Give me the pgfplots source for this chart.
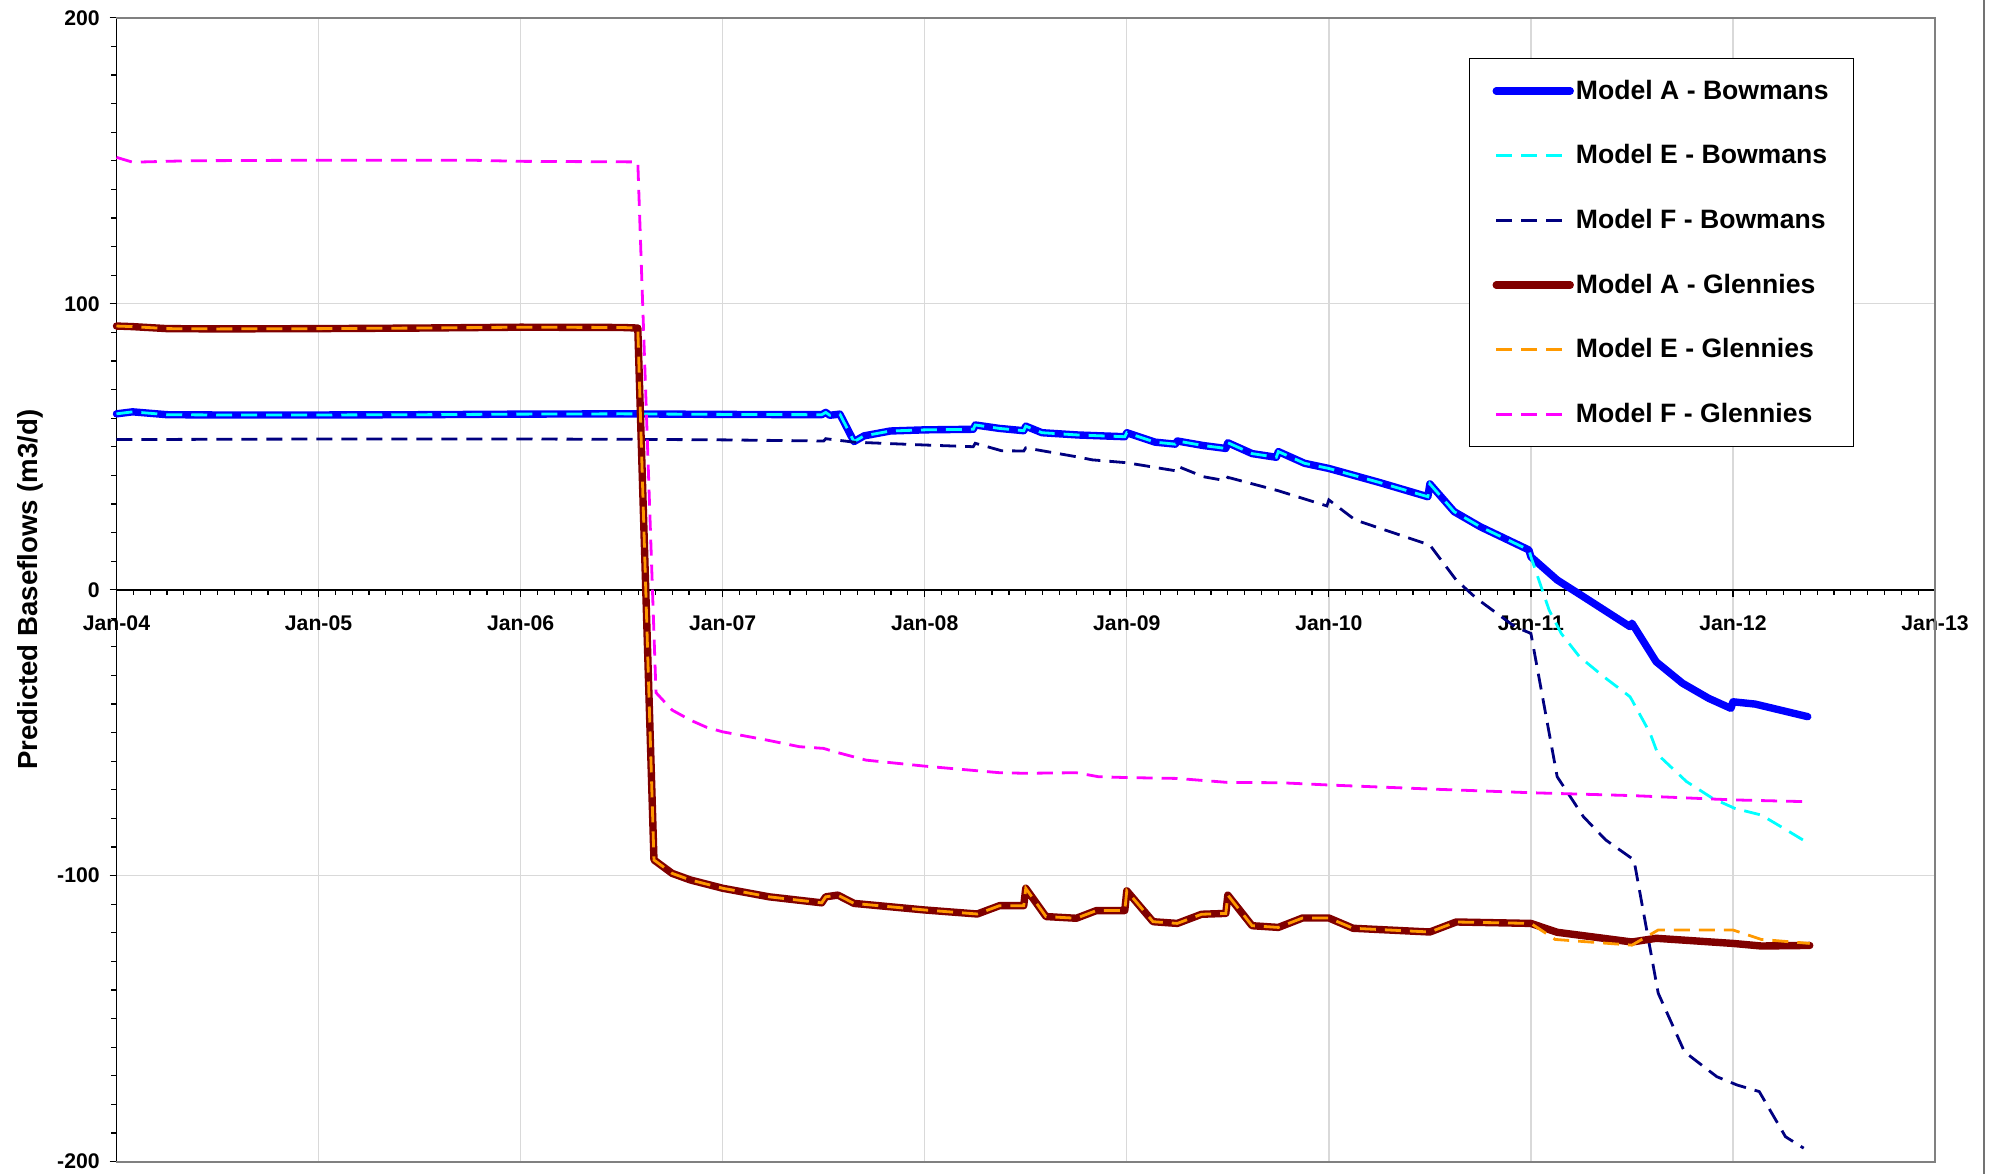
\documentclass[border=0pt]{standalone}
\usepackage{fontspec}
\setmainfont{Liberation Sans}
\usepackage{pgfplots}
\pgfplotsset{compat=1.18}

\definecolor{modelAB}{RGB}{0,0,255}
\definecolor{modelEB}{RGB}{0,255,255}
\definecolor{modelFB}{RGB}{0,0,128}
\definecolor{modelAG}{RGB}{128,0,0}
\definecolor{modelEG}{RGB}{255,153,0}
\definecolor{modelFG}{RGB}{255,0,255}
\definecolor{gridgray}{RGB}{217,217,217}
\definecolor{framegray}{RGB}{128,128,128}

\begin{document}
\begin{tikzpicture}
\begin{axis}[
    scale only axis,
    width=909.25pt, height=571.9pt,
    xmin=2004, xmax=2013, ymin=-200, ymax=200,
    clip=false,
    axis x line=middle, axis y line=left,
    axis line style={-, black, line width=0.8pt},
    hide obscured x ticks=false, hide obscured y ticks=false,
    xtick={2004,2005,2006,2007,2008,2009,2010,2011,2012,2013},
    xticklabels={Jan-04,Jan-05,Jan-06,Jan-07,Jan-08,Jan-09,Jan-10,Jan-11,Jan-12,Jan-13},
    ytick={-200,-100,0,100,200},
    yticklabels={-200,-100,0,100,200},
    minor x tick num=11, minor y tick num=9,
    tick align=outside,
    major tick length=3.4pt, minor tick length=2.6pt,
    tick style={black, line width=0.6pt},
    grid=major,
    major grid style={gridgray, line width=0.7pt},
    ticklabel style={font=\bfseries\fontsize{10.6}{12}\selectfont},
    xticklabel style={yshift=-6pt},
    yticklabel style={xshift=-1.5pt},
    ylabel={Predicted Baseflows (m3/d)},
    every axis y label/.style={at={(axis description cs:-0.0476,0.5)}, rotate=90, anchor=center,
        font=\bfseries\fontsize{13.8}{16}\selectfont},
    legend cell align=left,
    legend style={at={(0.7437,0.9649)}, anchor=north west, draw=black, line width=0.6pt,
        fill=white, inner xsep=11.5pt, inner ysep=8.6pt, row sep=17.2pt,
        font=\bfseries\fontsize{13.3}{15}\selectfont,
        nodes={inner xsep=1pt, inner ysep=2pt}},
    legend image code/.code={\draw[#1] (0pt,0pt) -- (37pt,0pt);},
]

% Model A - Bowmans
\addplot[modelAB, mark=none, line width=3.7pt, line join=round, line cap=round] coordinates {
    (2004.00,61.5) (2004.08,62.2) (2004.25,61.2) (2004.50,61.1) (2005.00,61.1) (2005.50,61.2)
    (2006.00,61.4) (2006.50,61.5) (2007.00,61.3) (2007.49,61.2) (2007.51,62.0) (2007.53,61.0)
    (2007.58,61.4) (2007.65,51.8) (2007.70,53.8) (2007.83,55.5) (2008.00,55.9) (2008.24,56.1)
    (2008.25,57.6) (2008.37,56.4) (2008.49,55.6) (2008.50,57.2) (2008.58,54.9) (2008.76,54.1)
    (2008.99,53.5) (2009.00,54.9) (2009.14,51.6) (2009.24,50.9) (2009.25,52.0) (2009.38,50.4)
    (2009.49,49.4) (2009.50,51.4) (2009.62,47.6) (2009.74,46.3) (2009.75,48.3) (2009.88,44.2)
    (2010.00,42.4) (2010.25,37.5) (2010.49,32.5) (2010.50,37.0) (2010.62,27.3) (2010.75,22.0)
    (2010.99,13.9) (2011.00,11.5) (2011.13,3.4) (2011.25,-2.0) (2011.49,-12.9) (2011.50,-11.7)
    (2011.62,-25.2) (2011.75,-32.7) (2011.88,-38.0) (2011.99,-41.5) (2012.00,-39.2) (2012.11,-40.0)
    (2012.37,-44.4)
};
\addlegendentry{Model A - Bowmans\hspace{9pt}}

% Model E - Bowmans
\addplot[modelEB, mark=none, line width=1.4pt, dash pattern=on 8pt off 4.5pt] coordinates {
    (2004.00,61.5) (2004.08,62.2) (2004.25,61.2) (2004.50,61.1) (2005.00,61.1) (2005.50,61.2)
    (2006.00,61.4) (2006.50,61.5) (2007.00,61.3) (2007.49,61.2) (2007.51,62.0) (2007.53,61.0)
    (2007.58,61.4) (2007.65,51.8) (2007.70,53.8) (2007.83,55.5) (2008.00,55.9) (2008.24,56.1)
    (2008.25,57.6) (2008.37,56.4) (2008.49,55.6) (2008.50,57.2) (2008.58,54.9) (2008.76,54.1)
    (2008.99,53.5) (2009.00,54.9) (2009.14,51.6) (2009.24,50.9) (2009.25,52.0) (2009.38,50.4)
    (2009.49,49.4) (2009.50,51.4) (2009.62,47.6) (2009.74,46.3) (2009.75,48.3) (2009.88,44.2)
    (2010.00,42.4) (2010.25,37.5) (2010.49,32.5) (2010.50,37.0) (2010.62,27.3) (2010.75,22.0)
    (2010.99,13.9) (2011.00,11.5) (2011.09,-7.1) (2011.15,-15.3) (2011.24,-23.4) (2011.36,-30.4)
    (2011.49,-37.4) (2011.50,-38.6) (2011.59,-50.2) (2011.63,-57.8) (2011.77,-67.1) (2011.90,-73.0)
    (2012.01,-76.5) (2012.14,-78.8) (2012.25,-83.4) (2012.36,-88.1)
};
\addlegendentry{Model E - Bowmans}

% Model F - Bowmans
\addplot[modelFB, mark=none, line width=1.4pt, dash pattern=on 8pt off 4.5pt] coordinates {
    (2004.00,52.5) (2005.00,52.7) (2006.00,52.7) (2006.50,52.6) (2007.00,52.4) (2007.50,52.0)
    (2007.51,52.8) (2007.65,51.6) (2008.00,50.6) (2008.24,50.0) (2008.25,51.2) (2008.38,48.6)
    (2008.49,48.5) (2008.50,49.6) (2008.75,46.5) (2008.83,45.4) (2009.00,44.4) (2009.24,41.6)
    (2009.25,43.2) (2009.38,39.5) (2009.49,38.1) (2009.50,39.3) (2009.75,34.6) (2009.99,29.3)
    (2010.00,31.4) (2010.13,24.4) (2010.50,15.6) (2010.63,3.4) (2010.73,-3.0) (2010.92,-12.9)
    (2011.00,-15.3) (2011.13,-65.4) (2011.26,-79.4) (2011.37,-87.5) (2011.51,-94.5)
    (2011.63,-141.1) (2011.76,-161.6) (2011.92,-170.3) (2012.02,-173.2) (2012.13,-175.5)
    (2012.26,-191.3) (2012.35,-195.3)
};
\addlegendentry{Model F - Bowmans}

% Model A - Glennies
\addplot[modelAG, mark=none, line width=3.7pt, line join=round, line cap=round] coordinates {
    (2004.00,92.2) (2004.08,92.0) (2004.25,91.3) (2004.50,91.2) (2005.00,91.3) (2005.50,91.5)
    (2006.00,91.8) (2006.50,91.7) (2006.58,91.5) (2006.66,-94.5) (2006.75,-99.2) (2006.84,-101.5)
    (2007.00,-104.4) (2007.23,-107.4) (2007.49,-109.5) (2007.51,-107.4) (2007.57,-106.8)
    (2007.65,-109.7) (2008.00,-112.0) (2008.26,-113.4) (2008.37,-110.5) (2008.49,-110.5)
    (2008.50,-104.4) (2008.60,-114.3) (2008.75,-114.9) (2008.85,-112.2) (2008.99,-112.2)
    (2009.00,-105.3) (2009.13,-116.1) (2009.25,-116.7) (2009.37,-113.5) (2009.49,-113.2)
    (2009.50,-106.8) (2009.62,-117.5) (2009.75,-118.1) (2009.87,-114.8) (2010.00,-114.8)
    (2010.12,-118.4) (2010.50,-119.7) (2010.63,-116.2) (2011.00,-116.7) (2011.13,-119.8)
    (2011.50,-123.2) (2011.62,-121.9) (2012.00,-123.7) (2012.14,-124.6) (2012.38,-124.4)
};
\addlegendentry{Model A - Glennies}

% Model E - Glennies
\addplot[modelEG, mark=none, line width=1.4pt, dash pattern=on 8pt off 4.5pt] coordinates {
    (2004.00,92.2) (2004.08,92.0) (2004.25,91.3) (2004.50,91.2) (2005.00,91.3) (2005.50,91.5)
    (2006.00,91.8) (2006.50,91.7) (2006.58,91.5) (2006.66,-94.5) (2006.75,-99.2) (2006.84,-101.5)
    (2007.00,-104.4) (2007.23,-107.4) (2007.49,-109.5) (2007.51,-107.4) (2007.57,-106.8)
    (2007.65,-109.7) (2008.00,-112.0) (2008.26,-113.4) (2008.37,-110.5) (2008.49,-110.5)
    (2008.50,-104.4) (2008.60,-114.3) (2008.75,-114.9) (2008.85,-112.2) (2008.99,-112.2)
    (2009.00,-105.3) (2009.13,-116.1) (2009.25,-116.7) (2009.37,-113.5) (2009.49,-113.2)
    (2009.50,-106.8) (2009.62,-117.5) (2009.75,-118.1) (2009.87,-114.8) (2010.00,-114.8)
    (2010.12,-118.4) (2010.50,-119.7) (2010.63,-116.2) (2011.00,-116.7) (2011.12,-122.3)
    (2011.50,-124.3) (2011.63,-119.0) (2012.00,-119.0) (2012.14,-122.3) (2012.38,-123.7)
};
\addlegendentry{Model E - Glennies}

% Model F - Glennies
\addplot[modelFG, mark=none, line width=1.4pt, dash pattern=on 8pt off 4.5pt] coordinates {
    (2004.00,151.2) (2004.08,149.5) (2004.36,150.0) (2005.00,150.2) (2005.75,150.2) (2006.00,149.8)
    (2006.58,149.6) (2006.67,-36.0) (2006.75,-42.1) (2006.84,-45.6) (2006.92,-48.1) (2007.00,-49.7)
    (2007.22,-52.6) (2007.38,-54.9) (2007.50,-55.5) (2007.55,-56.6) (2007.71,-59.6) (2008.00,-61.7)
    (2008.37,-64.0) (2008.50,-64.2) (2008.75,-64.0) (2008.86,-65.4) (2009.00,-65.7) (2009.25,-66.0)
    (2009.50,-67.4) (2009.76,-67.5) (2010.00,-68.3) (2010.50,-69.7) (2011.00,-71.0) (2011.50,-72.0)
    (2012.00,-73.5) (2012.35,-74.1)
};
\addlegendentry{Model F - Glennies}

% plot area border and chart edge
\draw[framegray, line width=1pt] (rel axis cs:0,1) -- (rel axis cs:1,1) -- (rel axis cs:1,0) -- (rel axis cs:0,0);
\draw[black!55, line width=0.6pt] (rel axis cs:1.0269,-0.0108) -- (rel axis cs:1.0269,1.0156);

\coordinate (bbsw) at (rel axis cs:-0.06406,-0.01084);
\coordinate (bbne) at (rel axis cs:1.03299,1.01556);
\end{axis}
\pgfresetboundingbox
\useasboundingbox (bbsw) rectangle (bbne);
\end{tikzpicture}
\end{document}
